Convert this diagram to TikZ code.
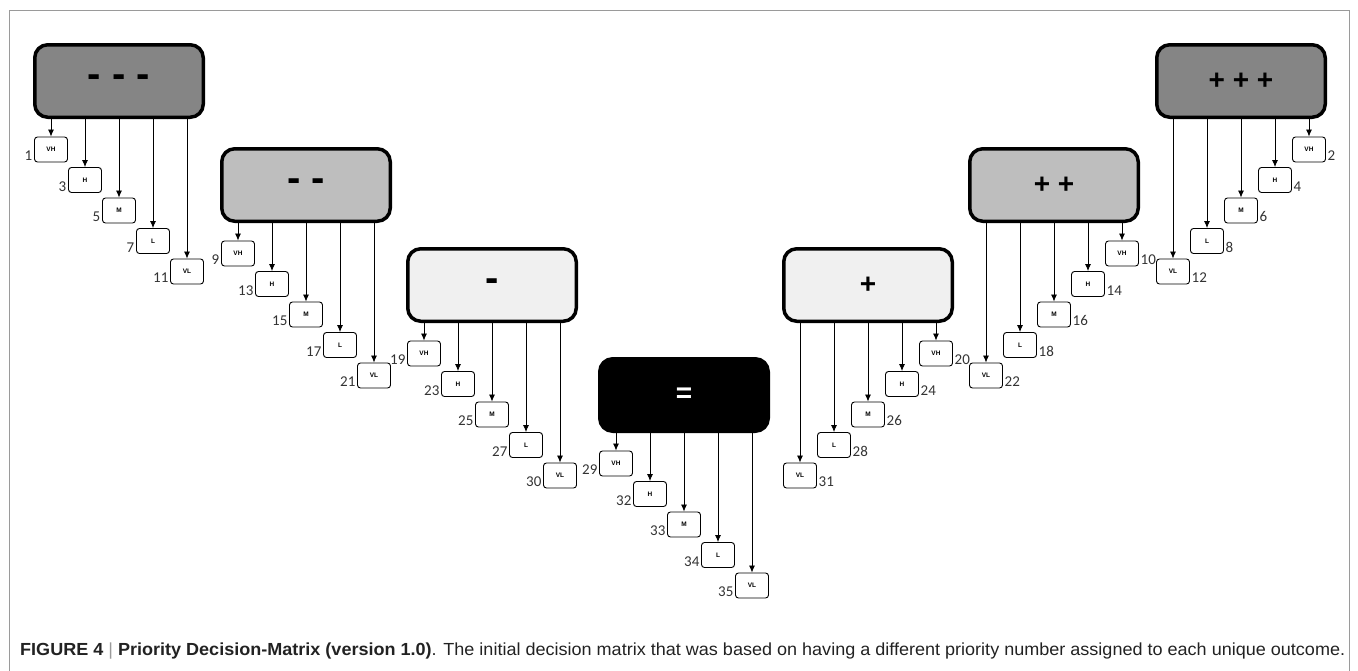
\documentclass[tikz,border=0pt]{standalone}
\usepackage{fontspec}
\setmainfont{Liberation Sans}
\newfontfamily\numfont{Carlito}
\usetikzlibrary{arrows.meta,calc}
\definecolor{gdark}{HTML}{858585}
\definecolor{gmid}{HTML}{BEBEBE}
\definecolor{glight}{HTML}{F0F0F0}
\definecolor{gframe}{HTML}{9A9A9A}
\definecolor{gcap}{HTML}{222222}
\tikzset{
 bigbox/.style={draw=black,line width=3.5pt,rounded corners=13pt,minimum width=168.5pt,
   minimum height=72.5pt,inner sep=0pt,font=\bfseries\fontsize{28}{28}\selectfont},
 smallbox/.style={draw=black,line width=0.9pt,rounded corners=3pt,minimum width=33pt,
   minimum height=25pt,inner sep=0pt,fill=white,font=\bfseries\fontsize{6.5}{6.5}\selectfont},
 numlbl/.style={inner sep=1.5pt,font=\numfont\fontsize{15}{15}\selectfont,text=black!80},
 arrow/.style={-{Latex[length=7pt,width=6pt]},line width=0.8pt,draw=black}
}
\begin{document}
\begin{tikzpicture}[x=1pt,y=-1pt]
 \useasboundingbox (0,0) rectangle (1358,670);
 \draw[gframe,line width=1pt] (9,10) rectangle (1349.5,680);
 % outcome groups, minus side left and plus side right
 \foreach \nm/\cx/\cy/\sg/\fc/\tc/\txt/\lbla/\lblc/\lst in {
   mmm/119/81/-1/gdark/black/{\fontsize{40}{40}\selectfont - - -}/south east/south west/{VH/1,H/3,M/5,L/7,VL/11},
   mm/306/185/-1/gmid/black/{\fontsize{40}{40}\selectfont - -}/south east/south west/{VH/9,H/13,M/15,L/17,VL/21},
   m/492/285/-1/glight/black/{\fontsize{40}{40}\selectfont -}/south east/south west/{VH/19,H/23,M/25,L/27,VL/30},
   eq/684/395/-1/black/white/{=}/south east/south west/{VH/29,H/32,M/33,L/34,VL/35},
   p/868/285/1/glight/black/{+}/south west/south east/{VH/20,H/24,M/26,L/28,VL/31},
   pp/1054/185/1/gmid/black/{+ +}/south west/south east/{VH/10,H/14,M/16,L/18,VL/22},
   ppp/1241/81/1/gdark/black/{+ + +}/south west/south east/{VH/2,H/4,M/6,L/8,VL/12}}{
  \node[bigbox,fill=\fc,text=\tc] (\nm) at (\cx,\cy) {\txt};
  \foreach \lv/\nn [count=\k from 0] in \lst {
   \node[smallbox] (\nm-\lv) at ($(\nm.south)+({\sg*(68-34*\k)},{30.5+30.5*\k})$) {\lv};
   \node[numlbl,anchor=\lbla] at (\nm-\lv.\lblc) {\nn};
   \draw[arrow] (\nm.south -| \nm-\lv.north) -- (\nm-\lv.north);
  }
 }
 % caption
 \node[anchor=west,inner sep=0pt,text=gcap,font=\fontsize{17.5}{17.5}\selectfont] (cap) at (20,651)
  {\resizebox{1325pt}{\height}{\textbf{FIGURE 4} {\color{gframe}|} \textbf{Priority Decision-Matrix (version 1.0)}. The initial decision matrix that was based on having a different priority number assigned to each unique outcome.}};
\end{tikzpicture}
\end{document}
